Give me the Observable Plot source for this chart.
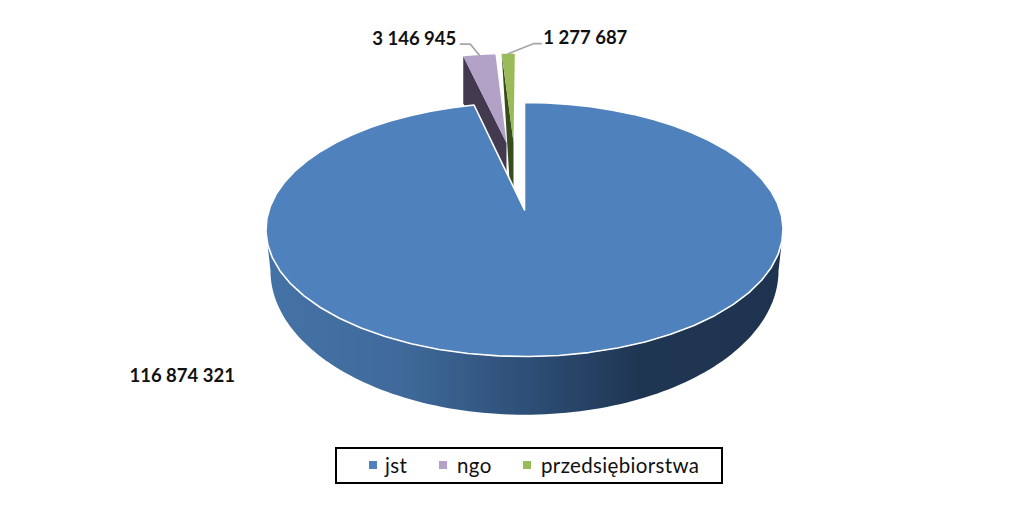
<!DOCTYPE html>
<html lang="pl">
<head>
<meta charset="utf-8">
<script src="https://cdn.jsdelivr.net/npm/d3@7"></script>
<script src="https://cdn.jsdelivr.net/npm/@observablehq/plot@0.6"></script>
<style>
  html, body { margin: 0; padding: 0; background: #fff; }
  #chart { position: relative; width: 1023px; height: 529px; overflow: hidden; }
  #chart svg { display: block; background: #fff; }
  #legend {
    position: absolute; left: 335px; top: 447px; width: 384px; height: 33px;
    border: 2px solid #000; font: 20.5px Lato, sans-serif; color: #111;
  }
  #legend span { position: absolute; top: 3px; line-height: 26px; white-space: nowrap; letter-spacing: .35px; }
  #legend i { position: absolute; top: 12px; width: 8px; height: 8px; }
</style>
</head>
<body>
<div id="chart"></div>
<script>
// ---- data ----
const categories = ["jst", "ngo", "przedsiębiorstwa"];
const values = [116874321, 3146945, 1277687];
const topColors = ["#4f81bd", "#b3a2c7", "#9bbb59"];
const wallColors = ["url(#wall)", "#433a50", "#374d1e"];
const legendSwatchX = [33, 103, 187];
const legendTextX = [48, 120, 204];

// ---- perspective model of the tilted pie ----
const W = 1023, H = 442;
const k = 0.154;
const topPlane = {cx: 524, cy: 209.5, a: 124, b: 255.5};
const floorPlane = {cx: 524, cy: 248, a: 140.6, b: 251};
const explode = [[0, 0], [-0.077, -0.592], [-0.047, -0.6]];
const radius = [1, 0.965, 0.965];
const satelliteDepth = 47 / topPlane.a;
const przDepth = 54 / topPlane.a;
const przLean = -3 / topPlane.b;

const fmt = d3.formatLocale({thousands: " ", grouping: [3], decimal: ","}).format(",d");
const total = d3.sum(values);
let acc = 0;
const slices = values.map((v, i) => {
  const start = acc / total * 360; acc += v;
  return {i, name: categories[i], value: v, start, end: acc / total * 360};
});

const plan = (deg, s) => {
  const t = deg * Math.PI / 180, r = radius[s], e = explode[s];
  return [r * Math.sin(t) + e[0], -r * Math.cos(t) + e[1]];
};
// screen position in the top plane's units (the x,y scales turn these into pixels)
const flat = ([X, Y]) => ({x: X / (1 - k * Y), y: Y / (1 - k * Y)});
const floor = ([X, Y]) => {
  const d = 1 - k * Y;
  return {
    x: (floorPlane.cx - topPlane.cx + floorPlane.b * X / d) / topPlane.b,
    y: (floorPlane.cy - topPlane.cy + floorPlane.a * Y / d) / topPlane.a
  };
};
const arc = (s, a0, a1, n = 60) => d3.range(n + 1).map(j => a0 + (a1 - a0) * j / n);
const rim = s => arc(s.i, s.start, s.end).map(d => flat(plan(d, s.i)));
const apex = s => flat(explode[s.i]);
const topFace = s => [apex(s), ...rim(s)];

// front wall of the big slice, between the silhouette points of the top ellipse
const sil = Math.acos(-k) * 180 / Math.PI;
const bigWall = [
  ...arc(0, sil, 360 - sil, 120).map(d => flat(plan(d, 0))),
  ...arc(0, 360 - sil, sil, 120).map(d => floor(plan(d, 0)))
];
const drop = (p, depth, lean = 0) => ({x: p.x + lean, y: p.y + depth});
const ngoRim = flat(plan(slices[1].start, 1));
const ngoWall = [ngoRim, apex(slices[1]), drop(apex(slices[1]), satelliteDepth), drop(ngoRim, satelliteDepth)];
const przRim = flat(plan(slices[2].start, 2));
const przWall = [przRim, apex(slices[2]), drop(apex(slices[2]), przDepth), drop(apex(slices[2]), przDepth, przLean)];

const face = (pts, fill, stroke, strokeWidth) =>
  Plot.line(pts, {x: "x", y: "y", fill, stroke: stroke ?? "none", strokeWidth: strokeWidth ?? 0, curve: "linear-closed"});

// leader lines start at the slice's rim mid-point
const mid = s => flat(plan((s.start + s.end) / 2, s.i));
const offset = (p, dx, dy) => ({x: p.x + dx / topPlane.b, y: p.y + dy / topPlane.a});
const ngoMid = mid(slices[1]), przMid = mid(slices[2]), jstMid = mid(slices[0]);
const ngoLeader = [ngoMid, offset(ngoMid, -9, -11), offset(ngoMid, -19, -11)];
const przLeader = [przMid, offset(przMid, 25, -10), offset(przMid, 33, -10)];

const label = (p, text, textAnchor, dx, dy) =>
  Plot.text([text], {
    x: () => p.x, y: () => p.y, text: d => d, textAnchor, dx, dy,
    fontFamily: "Lato, sans-serif", fontWeight: 700, fontSize: 18.5, fill: "#111"
  });

const gradient = () => {
  const defs = d3.create("svg:defs");
  const g = defs.append("linearGradient").attr("id", "wall")
    .attr("gradientUnits", "objectBoundingBox").attr("x1", 0).attr("x2", 1).attr("y1", 0).attr("y2", 0);
  [[0, "#4572a6"], [0.26, "#3f6a9b"], [0.5, "#2e4f77"], [0.72, "#1f3653"], [1, "#1e3350"]]
    .forEach(([o, c]) => g.append("stop").attr("offset", o).attr("stop-color", c));
  return defs.node();
};

const plot = Plot.plot({
  width: W, height: H,
  margin: 0,
  x: {axis: null, domain: [-topPlane.cx / topPlane.b, (W - topPlane.cx) / topPlane.b], range: [0, W]},
  y: {axis: null, domain: [-topPlane.cy / topPlane.a, (H - topPlane.cy) / topPlane.a], range: [0, H]},
  marks: [
    gradient,
    face(bigWall, wallColors[0]),
    face(ngoWall, wallColors[1]),
    face(przWall, wallColors[2]),
    face(topFace(slices[1]), topColors[1]),
    face(topFace(slices[2]), topColors[2]),
    face(topFace(slices[0]), topColors[0], "#fff", 1.6),
    Plot.line(ngoLeader, {x: "x", y: "y", stroke: "#a6a6a6", strokeWidth: 1.6}),
    Plot.line(przLeader, {x: "x", y: "y", stroke: "#a6a6a6", strokeWidth: 1.6}),
    label(ngoMid, fmt(values[1]), "end", -23, -16),
    label(przMid, fmt(values[2]), "start", 35, -16),
    label(jstMid, fmt(values[0]), "end", -324, 21)
  ]
});

const chart = document.getElementById("chart");
chart.append(plot);
const legend = document.createElement("div");
legend.id = "legend";
categories.forEach((c, i) => {
  const sw = document.createElement("i");
  sw.style.left = legendSwatchX[i] - 1 + "px";
  sw.style.background = topColors[i];
  const t = document.createElement("span");
  t.style.left = legendTextX[i] + "px";
  t.textContent = c;
  legend.append(sw, t);
});
chart.append(legend);
</script>
</body>
</html>
